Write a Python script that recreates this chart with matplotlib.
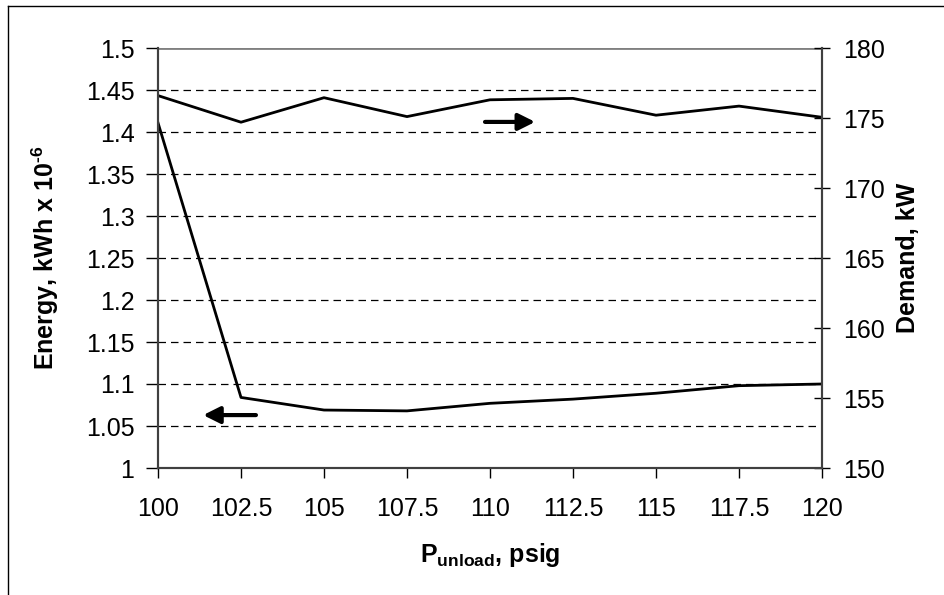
import matplotlib
matplotlib.use("Agg")
import matplotlib.pyplot as plt
from matplotlib.lines import Line2D

plt.rcParams["font.family"] = ["Liberation Sans", "DejaVu Sans"]
plt.rcParams["axes.unicode_minus"] = False
plt.rcParams["mathtext.fontset"] = "custom"
plt.rcParams["mathtext.rm"] = "Liberation Sans:bold"
plt.rcParams["mathtext.bf"] = "Liberation Sans:bold"

# data
p_unload = [100, 102.5, 105, 107.5, 110, 112.5, 115, 117.5, 120]
energy = [1.411, 1.084, 1.069, 1.068, 1.077, 1.082, 1.089, 1.098, 1.100]
demand = [176.6, 174.7, 176.45, 175.1, 176.3, 176.4, 175.2, 175.85, 175.05]

x_ticks = [100, 102.5, 105, 107.5, 110, 112.5, 115, 117.5, 120]
x_ticklabels = ["100", "102.5", "105", "107.5", "110", "112.5", "115", "117.5", "120"]
e_ticks = [1, 1.05, 1.1, 1.15, 1.2, 1.25, 1.3, 1.35, 1.4, 1.45, 1.5]
e_ticklabels = ["1", "1.05", "1.1", "1.15", "1.2", "1.25", "1.3", "1.35", "1.4", "1.45", "1.5"]
d_ticks = [150, 155, 160, 165, 170, 175, 180]

fs = 18

fig = plt.figure(figsize=(9.44, 5.95), dpi=100)
ax = fig.add_axes([158 / 944, 1 - 468 / 595, 664 / 944, 420 / 595])
ax2 = ax.twinx()

ax.plot(p_unload, energy, color="black", lw=2)
ax2.plot(p_unload, demand, color="black", lw=2)

ax.set_xlim(100, 120)
ax.set_ylim(1, 1.5)
ax2.set_ylim(150, 180)

ax.set_xticks(x_ticks)
ax.set_xticklabels(x_ticklabels, fontsize=fs)
ax.set_yticks(e_ticks)
ax.set_yticklabels(e_ticklabels, fontsize=fs)
ax2.set_yticks(d_ticks)
ax2.set_yticklabels([str(t) for t in d_ticks], fontsize=fs)

for y in e_ticks[1:-1]:
    ax.axhline(y, color="black", lw=0.9, ls=(0, (6, 4)), zorder=0)
ax.axhline(1.5, color="#808080", lw=2, zorder=0)

ax.tick_params(axis="x", direction="out", length=7, width=1, pad=14)
ax.tick_params(axis="y", direction="out", length=9, width=1, pad=8)
ax2.tick_params(axis="y", direction="inout", length=12, width=1, pad=9)

for a in (ax, ax2):
    a.spines["top"].set_visible(False)
    for s in ("left", "right", "bottom"):
        a.spines[s].set_linewidth(1.5)
        a.spines[s].set_color("#404040")

ax.set_xlabel(r"P$_{\text{unload}}$, psig", fontsize=fs, fontweight="bold", labelpad=14)
ax.set_ylabel(r"Energy, kWh x 10$^{\text{-6}}$", fontsize=fs, fontweight="bold", labelpad=18)
ax2.set_ylabel("Demand, kW", fontsize=fs, fontweight="bold", labelpad=8)

# direction arrows
arrow_style = dict(arrowstyle="-|>,head_length=1.0,head_width=0.5",
                   color="black", lw=3, shrinkA=0, shrinkB=0)
ax.annotate("", xy=(101.36, 1.063), xytext=(102.95, 1.063), arrowprops=arrow_style)
ax.annotate("", xy=(111.36, 1.412), xytext=(109.85, 1.412), arrowprops=arrow_style)

# outer frame (top and left edge only)
fig.add_artist(Line2D([8 / 944, 1], [1 - 6 / 595, 1 - 6 / 595],
                      transform=fig.transFigure, color="black", lw=1))
fig.add_artist(Line2D([8 / 944, 8 / 944], [0, 1 - 6 / 595],
                      transform=fig.transFigure, color="black", lw=1))

fig.savefig("out.png", dpi=100)
